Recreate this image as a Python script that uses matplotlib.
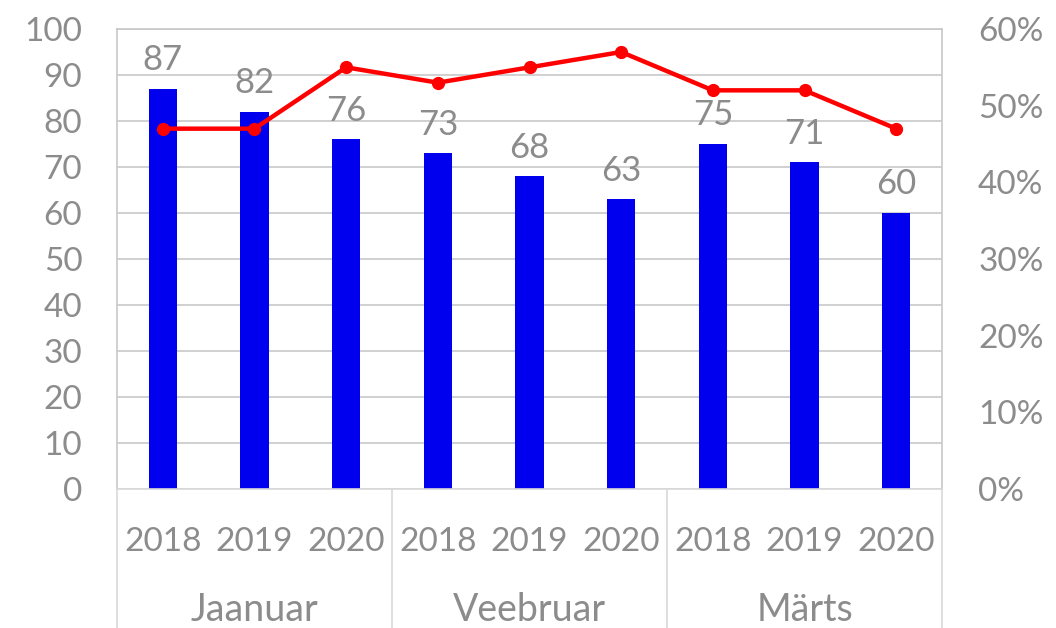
import matplotlib
matplotlib.use("Agg")
import matplotlib.pyplot as plt
import numpy as np

months = ["Jaanuar", "Veebruar", "Märts"]
years = ["2018", "2019", "2020"]
bar_values = [87, 82, 76, 73, 68, 63, 75, 71, 60]
line_values = [47, 47, 55, 53, 55, 57, 52, 52, 47]  # percent

plt.rcParams['font.family'] = ['Lato', 'DejaVu Sans']
txt = '#8c8c8c'
fs = 24

fig = plt.figure(figsize=(10.56, 6.28), dpi=100)
ax = fig.add_axes([117/1056, 1-489/628, (942-117)/1056, (489-29)/628])
x = np.arange(len(bar_values))
ax.bar(x, bar_values, width=0.31, color='#0000ee', zorder=2)
ax.set_xlim(-0.5, len(bar_values)-0.5)
ax.set_ylim(0, 100)
ax.set_yticks(np.arange(0, 101, 10))
ax.yaxis.grid(True, color='#c8c8c8', linewidth=1.2, zorder=0)
ax.set_axisbelow(True)
ax.tick_params(axis='y', length=0, labelsize=fs, labelcolor=txt, pad=25)
ax.set_xticks([])
for s in ['top', 'right', 'left']:
    ax.spines[s].set_color('#c8c8c8')
    ax.spines[s].set_linewidth(1.2)
ax.spines['bottom'].set_color('#d9d9d9')
ax.spines['bottom'].set_linewidth(1.2)

for xi, v in zip(x, bar_values):
    ax.annotate(str(v), (xi, v), xytext=(0, 9), textcoords='offset points',
                ha='center', va='bottom', fontsize=fs+1, color=txt, zorder=1)

ax2 = ax.twinx()
ax2.plot(x, line_values, color='#ff0000', linewidth=3.2, marker='o',
         markersize=8.5, zorder=3)
ax2.set_ylim(0, 60)
ax2.set_yticks(np.arange(0, 61, 10))
ax2.set_yticklabels([f"{t}%" for t in range(0, 61, 10)])
ax2.tick_params(axis='y', length=0, labelsize=fs, labelcolor=txt, pad=26)
for s in ax2.spines.values():
    s.set_visible(False)

# category axis
trans = ax.get_xaxis_transform()
for xi, yv in zip(x, years * 3):
    ax.text(xi, -0.115, yv, transform=trans, ha='center', va='center',
            fontsize=fs, color=txt)
for i, m in enumerate(months):
    ax.text(3*i + 1, -0.262, m, transform=trans, ha='center', va='center',
            fontsize=fs+3, color=txt)
for b in [-0.5, 2.5, 5.5, 8.5]:
    ax.plot([b, b], [0, -0.31], transform=trans, color='#d9d9d9',
            linewidth=1.2, clip_on=False)

fig.savefig("out.png", dpi=100)
